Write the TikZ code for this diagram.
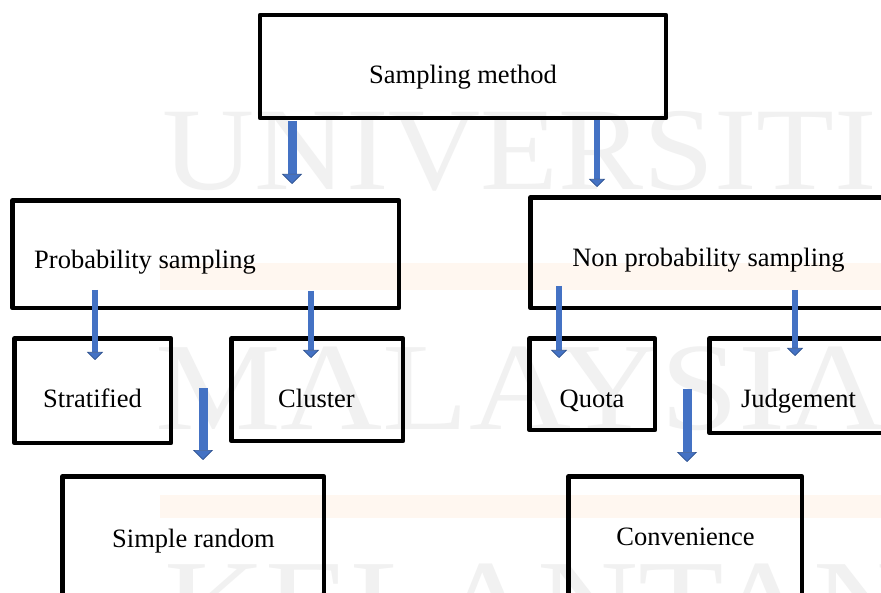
\documentclass[tikz,border=0pt]{standalone}
\usepackage{fontspec}
\setmainfont{Liberation Serif}
\usetikzlibrary{arrows.meta}
\definecolor{arrowblue}{HTML}{4472C4}
\definecolor{arrowedge}{HTML}{2F528F}
\definecolor{markgray}{HTML}{F1F1F1}
\definecolor{bandtint}{HTML}{FFF7F0}
\tikzset{
  box/.style={draw=black, line width=4.5pt, line join=round, rectangle},
  lbl/.style={anchor=base, inner sep=0pt, font=\fontsize{26.5}{30}\selectfont},
  bigarrow/.style={draw=arrowblue, line width=9pt,
    -{Triangle[width=20pt, length=10pt, fill=arrowblue, color=arrowedge, line width=0.6pt]}},
  smallarrow/.style={draw=arrowblue, line width=6pt,
    -{Triangle[width=16pt, length=8pt, fill=arrowblue, color=arrowedge, line width=0.6pt]}},
  wmtext/.style={anchor=base west, inner sep=0pt, text=markgray}
}
\begin{document}
\begin{tikzpicture}[x=1pt, y=-1pt]
\useasboundingbox (0,0) rectangle (881,593);
\clip (0,0) rectangle (881,593);
\fill[white] (0,0) rectangle (881,593);

% faint background watermark and tinted bands
\fill[bandtint] (160,263) rectangle (881,290);
\fill[bandtint] (160,495) rectangle (881,518);
\node[wmtext, font=\fontsize{118}{120}\selectfont] (wmA) at (162,190) {\scalebox{1.08}[1]{UNIVERSITI}};
\node[wmtext, font=\fontsize{125}{128}\selectfont] (wmB) at (155,430) {\scalebox{1.13}[1]{MALAYSIA}};
\node[wmtext, font=\fontsize{125}{128}\selectfont] (wmC) at (164,646) {\scalebox{1.12}[1]{KELANTAN}};

% boxes
\draw[box] (260,15) rectangle (666,118);
\draw[box] (12.5,200.5) rectangle (399,308);
\draw[box] (530.5,197.5) rectangle (900,308);
\draw[box] (14.5,338.5) rectangle (171,443);
\draw[box] (231.5,338.5) rectangle (403,441);
\draw[box] (62.5,476.5) rectangle (324,650);
\draw[box] (529.5,338.5) rectangle (655,430);
\draw[box] (709.5,338.5) rectangle (900,433);
\draw[box] (568.5,476.5) rectangle (802,650);

% labels
\node[lbl] (top) at (463,84) {Sampling method};
\node[lbl, anchor=base west] (prob) at (34,269) {Probability sampling};
\node[lbl] (nonprob) at (708.5,267) {Non probability sampling};
\node[lbl] (strat) at (92.5,408) {Stratified};
\node[lbl] (clus) at (316.5,408) {Cluster};
\node[lbl] (simp) at (193.5,547) {Simple random};
\node[lbl] (quota) at (592,408) {Quota};
\node[lbl] (judge) at (798.5,408) {Judgement};
\node[lbl] (conv) at (685.5,545) {Convenience};

% arrow end points
\coordinate (a1s) at (292,121); \coordinate (a1e) at (292,184);
\coordinate (a2s) at (597,120); \coordinate (a2e) at (597,187);
\coordinate (a3s) at (95,290);  \coordinate (a3e) at (95,360);
\coordinate (a4s) at (311,291); \coordinate (a4e) at (311,358);
\coordinate (a5s) at (203,388); \coordinate (a5e) at (203,460);
\coordinate (a6s) at (559,286); \coordinate (a6e) at (559,358);
\coordinate (a7s) at (795,290); \coordinate (a7e) at (795,356);
\coordinate (a8s) at (687,389); \coordinate (a8e) at (687,462);

% arrows
\draw[bigarrow]   (a1s) -- (a1e);
\draw[smallarrow] (a2s) -- (a2e);
\draw[smallarrow] (a3s) -- (a3e);
\draw[smallarrow] (a4s) -- (a4e);
\draw[bigarrow]   (a5s) -- (a5e);
\draw[smallarrow] (a6s) -- (a6e);
\draw[smallarrow] (a7s) -- (a7e);
\draw[bigarrow]   (a8s) -- (a8e);
\end{tikzpicture}
\end{document}
